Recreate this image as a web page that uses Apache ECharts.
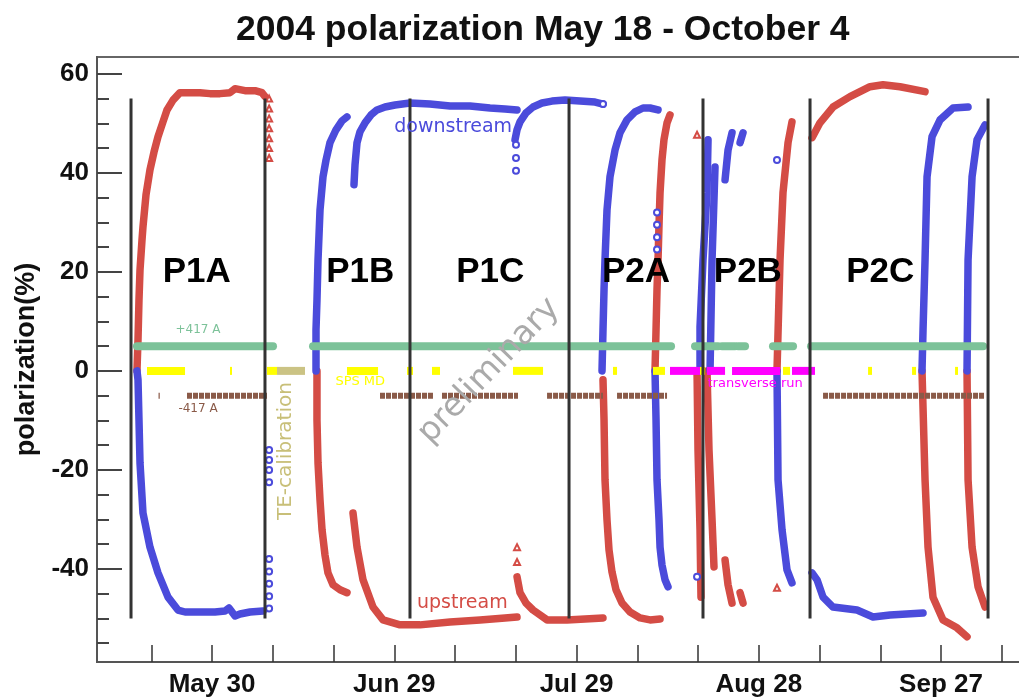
<!DOCTYPE html>
<html>
<head>
<meta charset="utf-8">
<script src="https://cdn.jsdelivr.net/npm/echarts@6/dist/echarts.min.js"></script>
<style>
  html, body { margin: 0; padding: 0; background: #fff; }
  #chart { width: 1019px; height: 700px; }
</style>
</head>
<body>
<div id="chart"></div>
<script>
// x = days since May 20 2004, y = polarization (%)
const tickDays = [0, 10, 20, 30, 40, 50, 60, 70, 80, 90, 100, 110, 120, 130, 140];
const labelDays = [10, 40, 70, 100, 130];
const labelNames = ["May 30", "Jun 29", "Jul 29", "Aug 28", "Sep 27"];
const yMajor = [-40, -20, 0, 20, 40, 60];
const yMinor = [-55, -50, -45, -35, -30, -25, -15, -10, -5, 5, 10, 15, 25, 30, 35, 45, 50, 55];

const periodNames = ["P1A", "P1B", "P1C", "P2A", "P2B", "P2C"];
const periodDays = [7.5, 34.4, 55.8, 79.8, 98.2, 120.0];
const boundaries = [-3.33, 18.72, 42.59, 68.77, 90.82, 108.44, 137.74];

// upstream cell (red)
const up_P1A = [[-2.35,0],[-2.18,6.3],[-2.02,14.3],[-1.85,20.4],[-1.52,26.5],[-1.36,29.1],[-0.86,35.6],[-0.21,40.6],[0.45,44.2],[1.11,47.3],[1.93,50.3],[2.59,52.7],[3.58,54.7],[4.73,56.2],[6.38,56.2],[8.02,56.2],[9.67,56.0],[11.32,56.0],[12.96,56.2],[13.79,57.0],[14.61,56.8],[15.43,56.6],[17.08,56.6],[18.23,56.2],[18.72,55.4]];
const up_P1B_1 = [[27.28,0],[27.28,-9.9],[27.45,-18.6],[27.78,-26.1],[28.11,-32.1],[28.60,-37.2],[29.09,-40.8],[29.92,-43.2],[31.07,-44.2],[32.22,-44.8]];
const up_P1B_2 = [[33.21,-28.7],[33.87,-35.6],[34.86,-42.2],[36.50,-47.7],[38.15,-50.3],[40.95,-51.3],[44.24,-51.3],[49.18,-50.7],[54.12,-50.3],[58.23,-49.9],[60.21,-49.7]];
const up_P1C = [[60.21,-41.6],[60.70,-44.8],[61.69,-46.9],[62.84,-48.3],[65.15,-50.3],[68.44,-50.3],[71.40,-50.1],[74.36,-49.9]];
const up_P2A_1 = [[74.36,-1.8],[74.53,-9.9],[74.69,-22.0],[75.02,-30.1],[75.35,-36.2],[75.84,-40.6],[76.50,-44.2],[77.49,-46.9],[78.81,-48.7],[80.46,-49.9],[82.10,-50.3],[83.75,-50.1]];
const up_P2A_2 = [[82.92,0],[83.09,8.3],[83.25,16.4],[83.42,22.4],[83.58,29.5],[83.75,36.0],[84.07,42.6],[84.40,46.7],[84.90,50.1],[85.39,51.7]];
const up_P2B_1 = [[89.84,0],[90.00,-16.0],[90.33,-32.1],[90.49,-45.7]];
const up_P2B_2 = [[91.48,0],[91.81,-16.0],[92.31,-30.1],[92.63,-39.6]];
const up_P2B_3 = [[94.45,-38.2],[94.94,-43.2],[95.60,-46.9]];
const up_P2B_4 = [[96.92,-44.8],[97.41,-46.9]];
const up_P2B_5 = [[103.00,0],[103.50,22.4],[103.99,36.0],[104.82,46.1],[105.47,50.3]];
const up_P2C_1 = [[108.77,47.1],[110.08,50.1],[112.22,53.3],[115.02,55.4],[118.31,57.4],[120.45,57.8],[123.25,57.4],[127.37,56.4]];
const up_P2C_2 = [[126.87,0],[127.37,-22.0],[127.86,-35.6],[128.68,-45.7],[130.33,-50.3],[132.63,-51.9],[134.28,-53.7]];
const up_P2C_3 = [[134.28,0],[134.45,-22.0],[135.11,-35.6],[136.09,-43.6],[137.25,-47.7]];

// downstream cell (blue)
const down_P1A = [[-2.35,0],[-2.18,-1.8],[-2.02,-9.9],[-1.85,-18.6],[-1.36,-28.7],[-0.21,-35.6],[1.11,-40.8],[2.76,-45.7],[4.40,-48.3],[5.56,-48.7],[8.02,-48.7],[10.49,-48.7],[12.14,-48.5],[12.80,-47.9],[13.79,-49.5],[14.61,-49.1],[16.26,-48.7],[18.40,-48.5]];
const down_P1B_1 = [[27.12,0],[27.12,8.3],[27.28,14.3],[27.45,22.4],[27.78,32.5],[28.27,39.2],[28.77,42.6],[29.42,46.1],[30.41,48.7],[31.40,50.5],[32.22,51.3]];
const down_P1B_2 = [[33.37,37.6],[33.54,41.6],[33.87,46.1],[34.36,48.3],[35.19,50.1],[36.17,51.7],[37.16,52.7],[38.48,53.3],[40.12,53.7],[42.59,54.1],[45.88,53.9],[49.18,53.5],[52.47,53.5],[55.76,53.1],[58.23,52.9],[60.21,52.7]];
const down_P1C = [[59.88,46.7],[60.21,48.7],[60.70,50.3],[61.69,52.1],[62.84,53.3],[64.32,54.1],[65.97,54.5],[68.11,54.7],[70.58,54.5],[73.05,54.3],[74.36,53.9]];
const down_P2A_1 = [[74.20,0],[74.36,8.3],[74.53,16.4],[74.69,22.4],[75.02,32.5],[75.51,39.2],[76.34,44.6],[77.16,48.1],[78.31,50.7],[79.63,52.3],[80.95,53.1],[82.10,53.1],[83.42,52.7]];
const down_P2A_2 = [[82.92,0],[83.09,-9.9],[83.25,-22.0],[83.58,-30.1],[83.75,-35.6],[84.07,-39.2],[84.57,-42.2],[85.06,-43.6]];
const down_P2B_1 = [[90.33,0],[90.33,8.9],[90.82,22.4],[91.48,36.0],[91.65,46.7]];
const down_P2B_2 = [[91.98,0],[92.31,22.4],[92.80,41.2]];
const down_P2B_3 = [[94.45,38.6],[94.94,44.6],[95.60,48.1]];
const down_P2B_4 = [[96.92,46.1],[97.41,48.1]];
const down_P2B_5 = [[103.00,0],[103.17,-22.0],[103.83,-32.1],[104.65,-40.2],[105.47,-42.8]];
const down_P2C_1 = [[108.77,-40.8],[109.59,-42.2],[110.58,-45.7],[112.22,-47.7],[116.17,-48.3],[118.81,-49.7],[121.61,-49.3],[127.04,-48.9]];
const down_P2C_2 = [[126.87,0],[127.04,8.3],[127.37,22.4],[127.70,39.2],[128.52,47.3],[129.84,50.7],[131.98,53.1],[134.45,53.3]];
const down_P2C_3 = [[134.28,0],[134.45,22.4],[135.11,39.2],[135.93,46.7],[137.25,49.7]];

// stray points
const upTriangles = [[19.4,55],[19.4,53],[19.4,51],[19.4,49],[19.4,47],[19.4,45],[19.4,43],[60.21,-35.6],[60.21,-38.6],[89.84,47.7],[103.0,-43.8]];
const downCircles = [[19.4,-16],[19.4,-18],[19.4,-20],[19.4,-22.5],[19.4,-38],[19.4,-40.5],[19.4,-43],[19.4,-45.5],[19.4,-48],[60.04,45.7],[60.04,43.0],[60.04,40.4],[74.36,53.9],[103.0,42.6],[89.84,-41.6],[83.25,32],[83.25,29.5],[83.25,27],[83.25,24.5]];

// beam condition runs [start, end] in days
const plus417Runs = [[-2.35,20.04],[26.63,85.56],[89.51,93.29],[93.95,96.09],[96.59,97.74],[102.34,105.64],[108.60,136.92]];
const minus417Runs = [[1.2,1.4],[5.88,19.05],[37.65,46.38],[47.86,60.37],[65.15,74.36],[76.67,84.90],[110.58,137.25]];
const spsMdRuns = [[-0.70,5.56],[12.96,13.29],[19.05,20.70],[32.22,37.33],[42.10,43.09],[46.21,47.53],[59.55,64.49],[76.01,76.67],[82.59,84.57],[90.33,91.15],[103.99,105.15],[117.99,118.64],[125.23,125.89],[132.31,132.80]];
const teCalRuns = [[20.70,25.31]];
const transverseRuns = [[85.39,90.33],[91.48,94.45],[95.60,103.50],[105.47,109.26]];

const RED = "#d44c45", BLUE = "#4b4bdb";

const upstream = [up_P1A, up_P1B_1, up_P1B_2, up_P1C, up_P2A_1, up_P2A_2, up_P2B_1, up_P2B_2, up_P2B_3, up_P2B_4, up_P2B_5, up_P2C_1, up_P2C_2, up_P2C_3];
const downstream = [down_P1A, down_P1B_1, down_P1B_2, down_P1C, down_P2A_1, down_P2A_2, down_P2B_1, down_P2B_2, down_P2B_3, down_P2B_4, down_P2B_5, down_P2C_1, down_P2C_2, down_P2C_3];

function lineSeries(data, color, width, z, extra) {
  return Object.assign({
    type: "line", data: data, symbol: "none", showSymbol: false, silent: true,
    lineStyle: { color: color, width: width, cap: "round", join: "round" },
    z: z, animation: false
  }, extra || {});
}

const series = [];
upstream.forEach(d => series.push(lineSeries(d, RED, 7.5, 3)));
downstream.forEach(d => series.push(lineSeries(d, BLUE, 7.5, 3)));

function bands(runs, level, color, width, cap, type) {
  runs.forEach(r => series.push(lineSeries([[r[0], level], [r[1], level]], color, width, 4, {
    lineStyle: { color: color, width: width, cap: cap, type: type || "solid" }
  })));
}
bands(plus417Runs, 5, "#7cc299", 8, "round");
bands(minus417Runs, -5, "#8a5a48", 6, "butt", [5, 1]);
bands(spsMdRuns, 0, "#ffff00", 8, "butt");
bands(teCalRuns, 0, "#cbc384", 8, "butt");
bands(transverseRuns, 0, "#ff00ff", 8, "butt");

// period boundaries
boundaries.forEach(b => series.push(lineSeries([[b, -50], [b, 55]], "#333", 3, 5, {
  lineStyle: { color: "#333", width: 3, cap: "butt" }
})));

series.push({
  type: "scatter", data: upTriangles, symbol: "emptyTriangle", symbolSize: 6,
  itemStyle: { color: RED, borderColor: RED, borderWidth: 1, opacity: 1 }, z: 3, silent: true, animation: false
});
series.push({
  type: "scatter", data: downCircles, symbol: "emptyCircle", symbolSize: 6,
  itemStyle: { color: BLUE, borderColor: BLUE, borderWidth: 1, opacity: 1 }, z: 3, silent: true, animation: false
});

// text annotations anchored on data coordinates
const notes = [
  { text: "+417 A", at: [7.7, 8.3], color: "#7cc299", size: 12, rotate: 0 },
  { text: "-417 A", at: [7.7, -7.7], color: "#8a5a48", size: 12, rotate: 0 },
  { text: "SPS MD", at: [34.4, -2.2], color: "#ffff00", size: 13, rotate: 0 },
  { text: "transverse run", at: [99.4, -2.6], color: "#ff00ff", size: 13, rotate: 0 },
  { text: "TE-calibration", at: [22.2, -16.2], color: "#c8bf78", size: 20, rotate: 90 },
  { text: "downstream", at: [49.7, 49.3], color: BLUE, size: 19, rotate: 0 },
  { text: "upstream", at: [51.2, -46.9], color: RED, size: 19, rotate: 0 },
  { text: "preliminary", at: [55.6, 0.0], color: "#aaaaaa", size: 33, rotate: 46 }
];
series.push({
  type: "scatter", symbolSize: 0, silent: true, animation: false, z: 6,
  itemStyle: { opacity: 1 },
  data: notes.map(n => ({
    value: n.at,
    label: {
      show: true, position: "inside", formatter: n.text, color: n.color,
      fontSize: n.size, rotate: n.rotate, fontFamily: "DejaVu Sans",
      align: "center", verticalAlign: "middle", textBorderWidth: 0
    }
  }))
});
series.push({
  type: "scatter", symbolSize: 0, silent: true, animation: false, z: 7,
  itemStyle: { opacity: 1 },
  data: periodNames.map((p, i) => ({
    value: [periodDays[i], 20],
    label: {
      show: true, position: "inside", formatter: p, color: "#000",
      fontSize: 35, fontWeight: "bold", fontFamily: "Liberation Sans",
      align: "center", verticalAlign: "middle", textBorderWidth: 0
    }
  }))
});

const gridBox = { left: 97, right: -3, top: 57, bottom: 38 };
const X_MIN = -8.93, X_MAX = 143.33, Y_MIN = -58.8, Y_MAX = 63.4;

const chart = echarts.init(document.getElementById("chart"));
chart.setOption({
  backgroundColor: "#fff",
  animation: false,
  title: {
    text: "2004 polarization May 18 - October 4",
    left: 231, top: 7,
    textStyle: { fontSize: 35.5, fontWeight: "bold", color: "#111", fontFamily: "Liberation Sans" }
  },
  grid: [
    Object.assign({ show: true, borderColor: "#666", borderWidth: 2, outerBoundsMode: "none" }, gridBox),
    Object.assign({ show: false, outerBoundsMode: "none" }, gridBox)
  ],
  xAxis: [{
    type: "value", min: X_MIN, max: X_MAX, gridIndex: 0,
    axisLine: { show: true, onZero: false, lineStyle: { color: "#555", width: 2 } },
    axisTick: { show: true, inside: true, length: 17, customValues: tickDays, lineStyle: { color: "#333", width: 1.5 } },
    axisLabel: {
      customValues: labelDays, formatter: v => labelNames[labelDays.indexOf(v)] || "",
      fontSize: 26, fontWeight: "bold", color: "#111", margin: 10, fontFamily: "Liberation Sans"
    },
    splitLine: { show: false }
  }, {
    type: "value", min: X_MIN, max: X_MAX, gridIndex: 1, show: false,
    axisLine: { onZero: false }
  }],
  yAxis: [{
    type: "value", min: Y_MIN, max: Y_MAX, gridIndex: 0, position: "left",
    axisLine: { show: true, onZero: false, lineStyle: { color: "#555", width: 2 } },
    axisTick: { show: true, inside: true, length: 25, customValues: yMajor, lineStyle: { color: "#444", width: 2 } },
    axisLabel: { customValues: yMajor, fontSize: 26, fontWeight: "bold", color: "#111", margin: 8, fontFamily: "Liberation Sans" },
    splitLine: { show: false },
    name: "polarization(%)", nameLocation: "middle", nameGap: 52, nameRotate: 90,
    nameTextStyle: { fontSize: 27, fontWeight: "bold", color: "#111", fontFamily: "Liberation Sans" }
  }, {
    type: "value", min: Y_MIN, max: Y_MAX, gridIndex: 1, position: "left",
    axisLine: { show: false, onZero: false },
    axisTick: { show: true, inside: true, length: 12, customValues: yMinor, lineStyle: { color: "#444", width: 2 } },
    axisLabel: { show: false },
    splitLine: { show: false }
  }],
  series: series
});
</script>
</body>
</html>
